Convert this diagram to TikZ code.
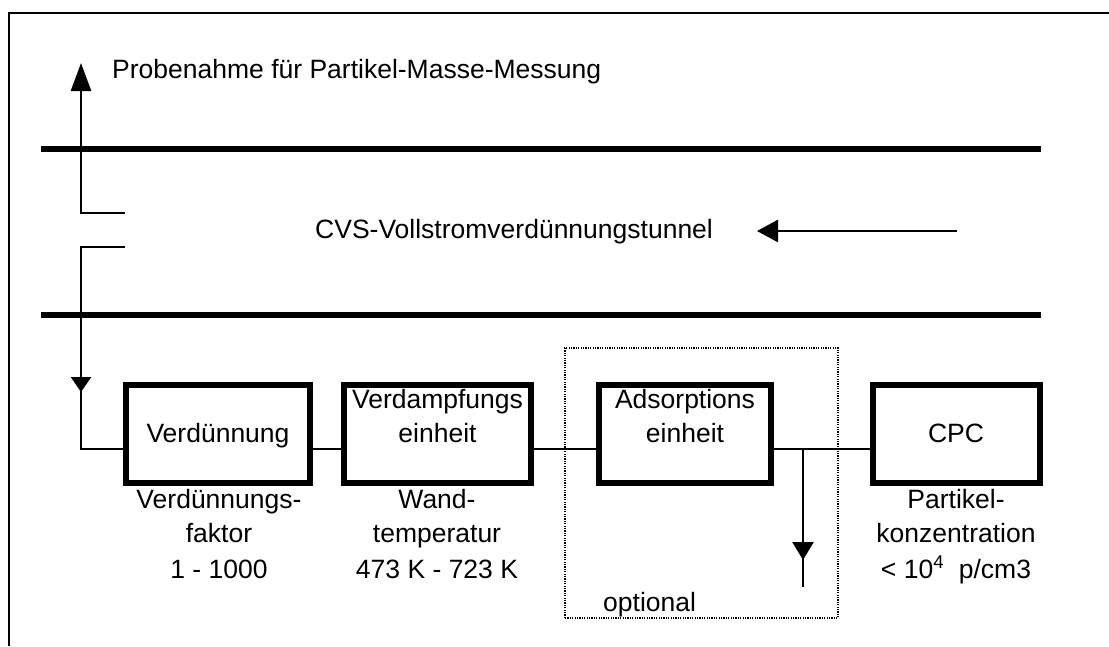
\documentclass[tikz,border=0pt]{standalone}
\usepackage{fontspec}
\setmainfont{Liberation Sans}
\usetikzlibrary{arrows.meta}
\begin{document}
\begin{tikzpicture}[x=1pt,y=-1pt,
  frame/.style={line width=2.5pt},
  tube/.style={line width=6pt},
  flow/.style={line width=2.6pt},
  unit/.style={draw, line width=6pt, minimum height=98.5pt, inner sep=0pt},
  optbox/.style={draw, line width=2.2pt, dash pattern=on 1.2pt off 1.2pt, minimum width=273pt, minimum height=270pt, inner sep=0pt},
  txt/.style={font=\fontsize{26.5}{32}\selectfont, inner sep=0pt, anchor=base},
  ltxt/.style={txt, anchor=base west}
]
\useasboundingbox (0,0) rectangle (1109,646);

% frame
\coordinate (fb) at (9,646);
\coordinate (fc) at (9,13);
\coordinate (fr) at (1109,13);
\draw[frame] (fb) -- (fc) -- (fr);

% tunnel walls
\coordinate (tl1) at (41,149);
\coordinate (tr1) at (1041,149);
\coordinate (tl2) at (41,315);
\coordinate (tr2) at (1041,315);
\draw[tube] (tl1) -- (tr1);
\draw[tube] (tl2) -- (tr2);

% texts top
\node[ltxt] (probe) at (112,78) {Probenahme für Partikel-Masse-Messung};
\node[ltxt] (cvs) at (315,238) {CVS-Vollstromverdünnungstunnel};

% tunnel flow arrow
\coordinate (flowS) at (957,231);
\coordinate (flowT) at (757,231);
\draw[flow, -{Triangle[length=21pt,width=22pt]}] (flowS) -- (flowT);

% sampling probes
\coordinate (up) at (81,63);
\coordinate (tapU) at (125,213);
\coordinate (tapD) at (125,247);
\coordinate (corner) at (81,449);
\draw[flow, -{Triangle[length=28pt,width=20pt]}] (tapU) -| (up);

% units
\node[unit, minimum width=184pt] (b1) at (217.5,433.75) {};
\node[unit, minimum width=187pt] (b2) at (437,433.75) {};
\node[unit, minimum width=172pt] (b3) at (684.5,433.75) {};
\node[unit, minimum width=167pt] (b4) at (956,433.75) {};

\draw[flow] (tapD) -| (corner) -- (corner -| b1.west);
\coordinate (a1s) at (81,360);
\coordinate (a1t) at (81,392);
\draw[flow, -{Triangle[length=15pt,width=20pt]}] (a1s) -- (a1t);

\draw[flow] (corner -| b1.east) -- (corner -| b2.west);
\draw[flow] (corner -| b2.east) -- (corner -| b3.west);
\draw[flow] (corner -| b3.east) -- (corner -| b4.west);

% optional drain
\coordinate (junc) at (803,449);
\coordinate (drain) at (803,587);
\coordinate (a2s) at (803,520);
\coordinate (a2t) at (803,560);
\draw[flow] (junc) -- (drain);
\draw[flow, -{Triangle[length=18pt,width=21pt]}] (a2s) -- (a2t);

% optional region
\node[optbox] (opt) at (701.5,483) {};
\node[ltxt] (optl) at (603,611) {optional};

% unit texts
\node[txt] (t1) at (218,442) {Verdünnung};
\node[txt] (t2a) at (437.5,408) {Verdampfungs};
\node[txt] (t2b) at (437.5,442) {einheit};
\node[txt] (t3a) at (685,408) {Adsorptions};
\node[txt] (t3b) at (685,442) {einheit};
\node[txt] (t4) at (956,442) {CPC};

% parameter labels
\node[txt] (l1a) at (219,508) {Verdünnungs-};
\node[txt] (l1b) at (219,542) {faktor};
\node[txt] (l1c) at (219,578) {1 - 1000};
\node[txt] (l2a) at (437,508) {Wand-};
\node[txt] (l2b) at (437,542) {temperatur};
\node[txt] (l2c) at (437,578) {473 K - 723 K};
\node[txt] (l4a) at (956,508) {Partikel-};
\node[txt] (l4b) at (956,542) {konzentration};
\node[txt] (l4c) at (956,578) {< 10\textsuperscript{4}\ \ p/cm3};
\end{tikzpicture}
\end{document}
